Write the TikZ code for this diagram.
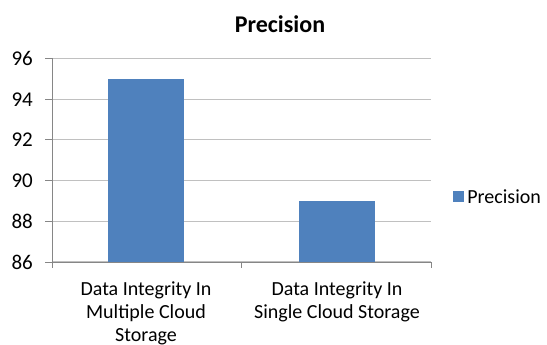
\documentclass[tikz,border=0pt]{standalone}
\usepackage{fontspec}
\setmainfont{Carlito}
\usetikzlibrary{positioning}
\definecolor{barblue}{RGB}{79,129,189}
\definecolor{gridgray}{RGB}{192,192,192}
\definecolor{axisgray}{RGB}{134,134,134}

\begin{document}
\begin{tikzpicture}[x=1pt,y=-1pt,
                    grid/.style={gridgray,line width=1.2pt},
                    axis/.style={axisgray,line width=1pt},
                    bar/.style={fill=barblue,inner sep=0pt,minimum width=76pt,anchor=south},
                    lab/.style={font=\fontsize{20}{23}\selectfont,align=center,anchor=north}]

 \useasboundingbox (0,0) rectangle (547,345);

 \node[font=\bfseries\fontsize{24}{28}\selectfont] (title) at (280,24) {Precision};

 % gridlines, ticks and values
 \foreach \v [evaluate=\v as \y using 262-(\v-86)*20.35] in {86,88,...,96} {
   \draw[grid] (52,\y) -- (431,\y);
   \draw[axis] (45,\y) -- (52,\y);
   \node[anchor=east,font=\fontsize{21}{24}\selectfont,inner sep=1pt] (v\v) at (34,\y) {\v};
 }

 % bars
 \node[bar,minimum height=183.2pt] (b1) at (146,262) {};
 \node[bar,minimum height=61.05pt] (b2) at (337,262) {};

 % axes
 \draw[axis] (52,58) -- (52,268);
 \draw[axis] (52,262) -- (431,262);
 \draw[axis] (241.5,262) -- (241.5,268);
 \draw[axis] (431,262) -- (431,268);

 \node[lab] (c1) at (146,278) {Data Integrity In\\Multiple Cloud\\Storage};
 \node[lab] (c2) at (337,278) {Data Integrity In\\Single Cloud Storage};

 % legend
 \node[fill=barblue,minimum size=11pt,inner sep=0pt] (key) at (458.5,196.5) {};
 \node[right=1pt of key,inner sep=2pt,font=\fontsize{20}{23}\selectfont] (keytext) {Precision};
\end{tikzpicture}
\end{document}
